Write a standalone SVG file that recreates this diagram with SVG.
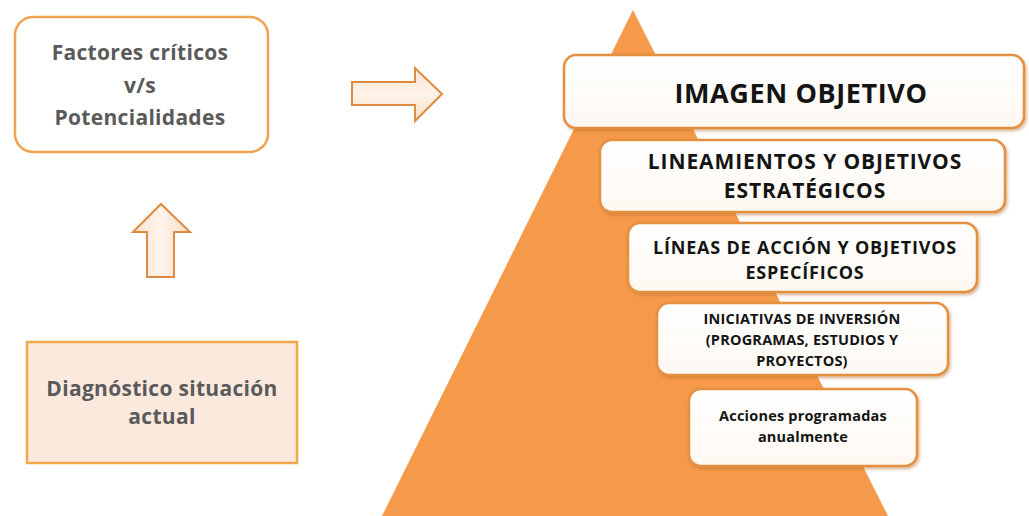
<svg xmlns="http://www.w3.org/2000/svg" width="1029" height="516" viewBox="0 0 1029 516">
<defs>
<filter id="sh" x="-10%" y="-10%" width="130%" height="140%">
<feDropShadow dx="1.5" dy="2" stdDeviation="1.5" flood-color="#b06020" flood-opacity="0.45"/>
</filter>
<linearGradient id="ag" x1="0" y1="0" x2="0" y2="1">
<stop offset="0" stop-color="#FCE4CF"/>
<stop offset="0.5" stop-color="#FEF3EA"/>
<stop offset="1" stop-color="#FBDCC2"/>
</linearGradient>
<linearGradient id="agv" x1="0" y1="0" x2="1" y2="0">
<stop offset="0" stop-color="#FCE4CF"/>
<stop offset="0.5" stop-color="#FEF3EA"/>
<stop offset="1" stop-color="#FBDCC2"/>
</linearGradient>
<linearGradient id="bg" x1="0" y1="0" x2="0" y2="1">
<stop offset="0" stop-color="#FFFFFF"/>
<stop offset="1" stop-color="#FEF8F2"/>
</linearGradient>
</defs>
<style>
.gray{font-family:"Open Sans",sans-serif;font-weight:bold;fill:#5a5a5a;text-anchor:middle}
.blk{font-family:"Open Sans",sans-serif;font-weight:bold;fill:#141414;text-anchor:middle}
.pbox{fill:url(#bg);stroke:#E58F3F;stroke-width:2.5;filter:url(#sh)}
.arrow{stroke:#DE8A40;stroke-width:2;stroke-linejoin:miter}
</style>
<rect width="1029" height="516" fill="#ffffff"/>

<g id="pyramid">
<polygon points="633,10 382,516 888,516" fill="#F59A4A"/>
</g>

<g id="factores">
<rect x="15" y="17" width="253" height="135" rx="18" fill="#ffffff" stroke="#F2A24E" stroke-width="2.5"/>
<text class="gray" font-size="21" letter-spacing="0.3" x="140" y="60">Factores críticos</text>
<text class="gray" font-size="21" letter-spacing="0.3" x="140" y="93">v/s</text>
<text class="gray" font-size="21" letter-spacing="0.3" x="140" y="125">Potencialidades</text>
</g>

<g id="diagnostico">
<rect x="27" y="342" width="270" height="121" fill="#FCE9DD" stroke="#F0A848" stroke-width="2.5"/>
<text class="gray" font-size="21" letter-spacing="0.3" x="162" y="396">Diagnóstico situación</text>
<text class="gray" font-size="21" letter-spacing="0.3" x="162" y="424">actual</text>
</g>

<g id="imagen">
<rect class="pbox" x="564" y="55" width="460" height="73" rx="12"/>
<text class="blk" font-size="27" letter-spacing="0.6" x="801" y="103">IMAGEN OBJETIVO</text>
</g>

<g id="lineamientos">
<rect class="pbox" x="600" y="140" width="405" height="72" rx="12"/>
<text class="blk" font-size="21" letter-spacing="0.9" x="805" y="169">LINEAMIENTOS Y OBJETIVOS</text>
<text class="blk" font-size="21" letter-spacing="0.9" x="805" y="198">ESTRATÉGICOS</text>
</g>

<g id="lineas">
<rect class="pbox" x="628" y="223" width="349" height="69" rx="12"/>
<text class="blk" font-size="18" letter-spacing="0.8" x="805" y="254">LÍNEAS DE ACCIÓN Y OBJETIVOS</text>
<text class="blk" font-size="18" letter-spacing="0.8" x="805" y="279">ESPECÍFICOS</text>
</g>

<g id="iniciativas">
<rect class="pbox" x="657" y="303" width="291" height="72" rx="12"/>
<text class="blk" font-size="14.5" letter-spacing="0.2" x="802" y="324">INICIATIVAS DE INVERSIÓN</text>
<text class="blk" font-size="14.5" letter-spacing="0.2" x="802" y="345">(PROGRAMAS, ESTUDIOS Y</text>
<text class="blk" font-size="14.5" letter-spacing="0.2" x="802" y="366">PROYECTOS)</text>
</g>

<g id="acciones">
<rect class="pbox" x="689" y="389" width="228" height="77" rx="12"/>
<text class="blk" font-size="14.5" letter-spacing="0.2" x="803" y="421">Acciones programadas</text>
<text class="blk" font-size="14.5" letter-spacing="0.2" x="803" y="442">anualmente</text>
</g>

<g id="connectors">
<polygon class="arrow" fill="url(#ag)" points="352,82 415,82 415,68 442,94 415,121 415,105 352,105"/>
<polygon class="arrow" fill="url(#agv)" points="161,204 190,232 174,232 174,277 147,277 147,232 133,232"/>
</g>
</svg>
